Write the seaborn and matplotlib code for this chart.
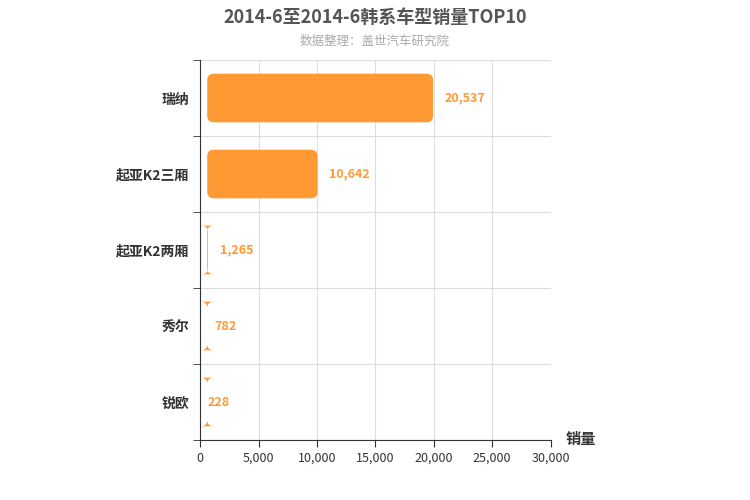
import matplotlib
matplotlib.use('Agg')
import matplotlib.pyplot as plt
import seaborn as sns
import pandas as pd
from matplotlib.patches import FancyBboxPatch

plt.rcParams['font.family'] = 'Noto Sans CJK SC'

# 数据
models = ['瑞纳', '起亚K2三厢', '起亚K2两厢', '秀尔', '锐欧']
sales = [20537, 10642, 1265, 782, 228]
df = pd.DataFrame({'model': models, 'sales': sales})

fig = plt.figure(figsize=(7.5, 5), dpi=100)
ax = fig.add_axes([0.267, 0.12, 0.467, 0.76])

sns.barplot(data=df, x='sales', y='model', color='#ff9933', width=0.8, ax=ax, saturation=1)

# 换成圆角矩形
for p in list(ax.patches):
    x0, y0, w, h = p.get_x(), p.get_y(), p.get_width(), p.get_height()
    p.remove()
    r = 0.08
    box = FancyBboxPatch((x0 + 600, y0 + r), max(w - 1200, 1), h - 2 * r,
                         boxstyle='round,pad=0,rounding_size=600',
                         mutation_aspect=r / 600 * 1.0,
                         fc='#ff9933', ec='#ff9933', lw=0)
    box.set_boxstyle('round', pad=0, rounding_size=600)
    ax.add_patch(box)

for i, v in enumerate(sales):
    ax.text(v + 400, i, f'{v:,}', va='center', ha='left', color='#ff9933',
            fontsize=9, fontweight='bold')

ax.set_xlim(0, 30000)
ax.set_ylim(4.5, -0.5)
ax.set_xticks(range(0, 30001, 5000))
ax.set_xticklabels([f'{t:,}' for t in range(0, 30001, 5000)], fontsize=9, color='#333333')
ax.set_yticks(range(5))
ax.set_yticklabels(models, fontsize=10, fontweight='bold', color='#333333')
ax.set_yticks([i + 0.5 for i in range(-1, 5)], minor=True)
ax.tick_params(axis='y', which='major', length=0, pad=8)
ax.tick_params(axis='y', which='minor', length=5, color='#333333')
ax.tick_params(axis='x', length=5, color='#333333')
ax.grid(axis='x', color='#dddddd', lw=0.8)
ax.grid(axis='y', which='minor', color='#dddddd', lw=0.8)
ax.set_axisbelow(True)
for s in ['top', 'right']:
    ax.spines[s].set_visible(False)
ax.spines['left'].set_color('#333333')
ax.spines['bottom'].set_color('#333333')
ax.set_xlabel('')
ax.set_ylabel('')

fig.text(0.5, 0.965, '2014-6至2014-6韩系车型销量TOP10', ha='center', va='center',
         fontsize=13, fontweight='bold', color='#555555')
fig.text(0.5, 0.918, '数据整理：盖世汽车研究院', ha='center', va='center',
         fontsize=9, color='#aaaaaa')
fig.text(0.775, 0.122, '销量', ha='center', va='center', fontsize=11,
         fontweight='bold', color='#333333')

fig.savefig('out.png', dpi=100)
